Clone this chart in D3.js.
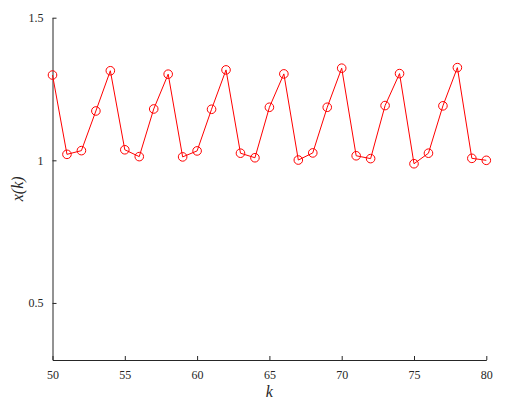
<!DOCTYPE html>
<html><head><meta charset="utf-8">
<script src="https://cdn.jsdelivr.net/npm/d3@7"></script>
<style>body{margin:0;background:#fff} svg text{font-family:'Liberation Serif','Times New Roman',Times,serif}</style></head>
<body><svg id="c" width="511" height="403"></svg>
<script>
const kValues = d3.range(50, 81);
const xValues = [1.299,1.021,1.034,1.173,1.314,1.037,1.013,1.180,1.302,1.012,
  1.033,1.179,1.317,1.025,1.009,1.186,1.303,1.001,1.026,1.186,
  1.323,1.016,1.006,1.192,1.304,0.988,1.025,1.191,1.325,1.007,1.000];
const xTicks = [50,55,60,65,70,75,80];
const yTicks = [0.5,1,1.5];

const svg = d3.select('#c');
const L = 52.5, R = 486.3, T = 17.7, B = 360;
const x = d3.scaleLinear().domain([50,80]).range([L,R]);
const y = d3.scaleLinear().domain([0.3,1.5]).range([B,T]);

const xa = svg.append('g').attr('transform',`translate(0,${B})`)
  .call(d3.axisBottom(x).tickValues(xTicks).tickSizeInner(-4).tickSizeOuter(0).tickPadding(10).tickFormat(d3.format('d')));
const ya = svg.append('g').attr('transform',`translate(${L},0)`)
  .call(d3.axisLeft(y).tickValues(yTicks).tickSizeInner(-4).tickSizeOuter(0).tickPadding(9).tickFormat(d=>String(d)));
[xa,ya].forEach(a=>{
  a.attr('font-family',null);
  a.selectAll('path,line').attr('stroke','#262626').attr('stroke-width',1);
  a.selectAll('text').attr('font-size',12).attr('fill','#262626');
});

const data = kValues.map((k,i)=>({k, v:xValues[i]}));
svg.append('path').datum(data)
  .attr('fill','none').attr('stroke','#ff0000').attr('stroke-width',1)
  .attr('d', d3.line().x(d=>x(d.k)).y(d=>y(d.v)));
svg.append('g').selectAll('circle').data(data).join('circle')
  .attr('cx',d=>x(d.k)).attr('cy',d=>y(d.v)).attr('r',4.3)
  .attr('fill','none').attr('stroke','#ff0000').attr('stroke-width',1);

svg.append('text').attr('x',(L+R)/2).attr('y',397).attr('text-anchor','middle')
  .attr('font-style','italic').attr('font-size',16).attr('fill','#262626').text('k');
svg.append('text').attr('transform',`translate(23,${(T+B)/2}) rotate(-90)`).attr('text-anchor','middle')
  .attr('font-style','italic').attr('font-size',16).attr('fill','#262626').text('x(k)');
</script></body></html>
